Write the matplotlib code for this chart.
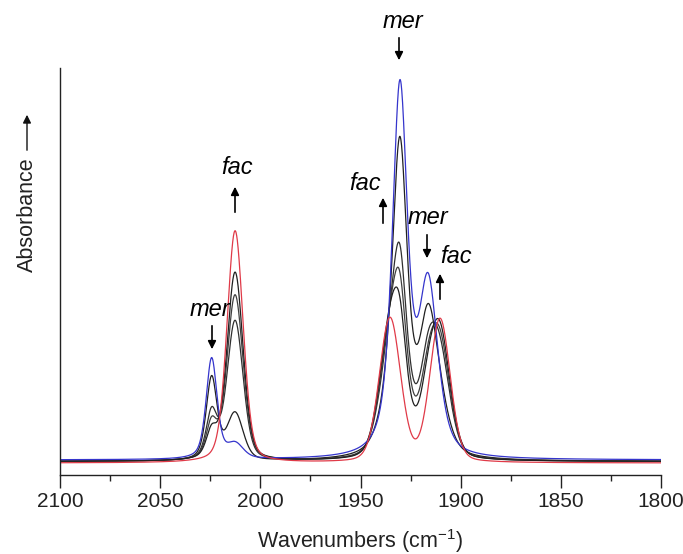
import numpy as np
import matplotlib
matplotlib.use("Agg")
import matplotlib.pyplot as plt

plt.rcParams['font.family'] = ['Liberation Sans', 'DejaVu Sans']

# IR carbonyl bands (cm^-1): mer 2024, fac 2012, mer 1930, fac 1935, mer 1916, fac 1910
band_centers = [2024.3, 2012.6, 1930.3, 1935.3, 1916.3, 1910.3]
band_fwhm = [6.5, 9.5, 9.0, 12.5, 11.0, 12.0]
band_lorentz = [0.5, 0.3, 0.6, 0.2, 0.5, 0.2]

# band heights for each spectrum in the series (mer -> fac isomerisation)
spec_blue = [101, 14, 364, 7, 163, 7]
spec_k1 = [83, 46, 297, 29, 126, 29]
spec_k2 = [47, 139, 155, 86, 76, 86]
spec_k3 = [36, 165, 118, 102, 58, 102]
spec_k4 = [27, 188, 84, 117, 45, 116]
spec_red = [0, 232, 0, 144, 0, 143]

spectra = [spec_blue, spec_k1, spec_k2, spec_k3, spec_k4, spec_red]
baselines = [2.0, 0.5, 0.5, 0.5, 0.5, -1.0]
colors = ['#3535cc', '#202020', '#303030', '#404040', '#202020', '#e03a48']

wn = np.linspace(2100, 1800, 3001)


def pseudo_voigt(x, x0, fwhm, eta):
    hw = fwhm / 2.0
    r2 = ((x - x0) / hw) ** 2
    return eta / (1.0 + r2) + (1 - eta) * np.exp(-np.log(2) * r2)


def spectrum(heights, base):
    y = np.full_like(wn, base)
    for h, c, w, e in zip(heights, band_centers, band_fwhm, band_lorentz):
        y += h * pseudo_voigt(wn, c, w, e)
    return y


fig = plt.figure(figsize=(6.83, 5.54), dpi=100)
ax = fig.add_axes([60 / 683, 1 - 475 / 554, 601 / 683, 407 / 554])

# intermediates first, then the two end members on top
order = [1, 2, 3, 4, 0, 5]
for i in order:
    ax.plot(wn, spectrum(spectra[i], baselines[i]), color=colors[i], lw=0.9)

ax.set_xlim(2100, 1800)
ax.set_ylim(-13, 394)
ax.set_xticks([2100, 2050, 2000, 1950, 1900, 1850, 1800])
ax.set_xticks(np.arange(1800, 2101, 25), minor=True)
ax.tick_params(axis='x', which='major', length=9, width=1, direction='out',
               labelsize=15, pad=3, colors='#222222')
ax.tick_params(axis='x', which='minor', length=4.5, width=1, direction='out',
               colors='#222222')
ax.tick_params(axis='y', left=False, labelleft=False)
for s in ['top', 'right']:
    ax.spines[s].set_visible(False)
for s in ['left', 'bottom']:
    ax.spines[s].set_color('#222222')
    ax.spines[s].set_linewidth(1.0)

ax.set_xlabel(r'Wavenumbers (cm$^{\mathregular{-1}}$)', fontsize=15.5,
              labelpad=12, color='#222222')

# y-axis label with an upward arrow
fig.text(27 / 683, 1 - 215 / 554, 'Absorbance', rotation=90, fontsize=15.5,
         ha='center', va='center', color='#222222')
fig.add_artist(matplotlib.patches.FancyArrowPatch(
    (27 / 683, 1 - 153 / 554), (27 / 683, 1 - 112 / 554),
    transform=fig.transFigure, arrowstyle='-|>', mutation_scale=12,
    color='#111111', lw=1.0))

# isomer annotations: (label, text x, text y, arrow x, arrow from y, arrow to y) in pixels
notes = [
    ('mer', 210, 310, 212, 323, 352),
    ('fac', 237, 168, 235, 215, 184),
    ('mer', 403, 22, 399, 35, 63),
    ('fac', 365, 183, 383, 226, 195),
    ('mer', 428, 218, 427, 232, 261),
    ('fac', 456, 257, 440, 302, 271),
]
for lab, tx, ty, axx, y0, y1 in notes:
    fig.text(tx / 683, 1 - ty / 554, lab, fontsize=17, style='italic',
             ha='center', va='center', color='black')
    fig.add_artist(matplotlib.patches.FancyArrowPatch(
        (axx / 683, 1 - y0 / 554), (axx / 683, 1 - y1 / 554),
        transform=fig.transFigure, arrowstyle='-|>', mutation_scale=12,
        color='black', lw=1.2))

fig.savefig('out.png', dpi=100)
